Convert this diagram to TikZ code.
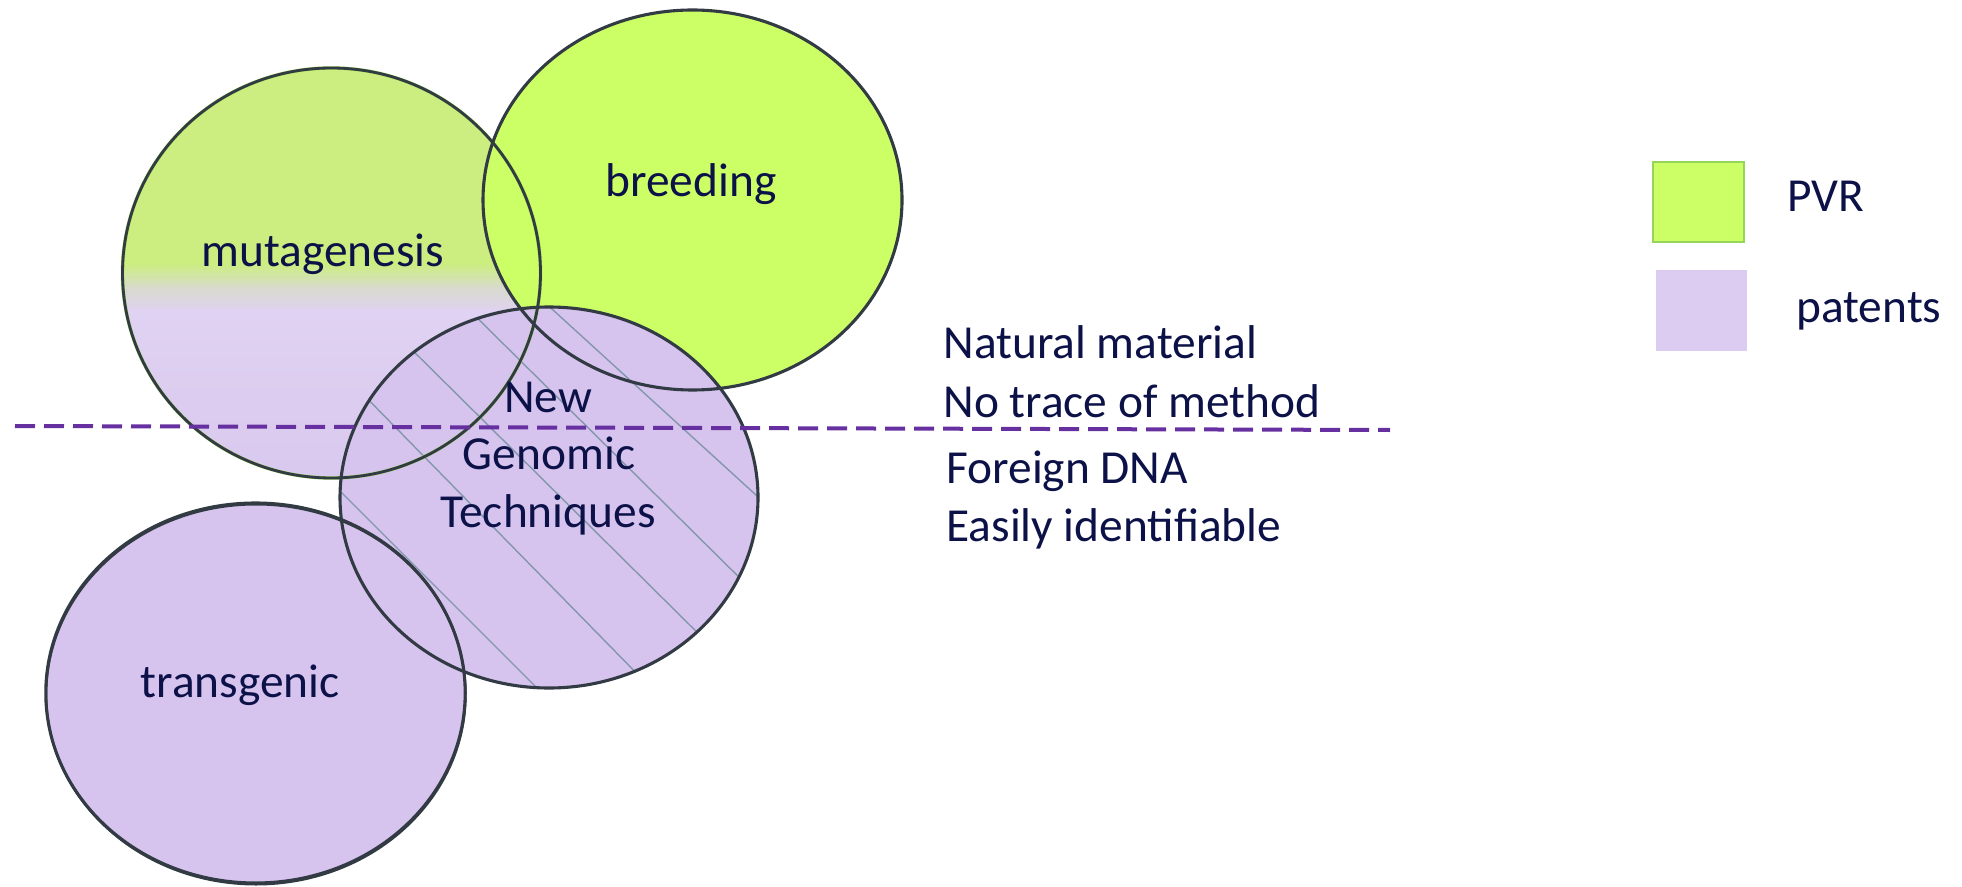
\documentclass[tikz,border=0pt]{standalone}
\usepackage{fontspec}
\setmainfont{Carlito}
\definecolor{breedgreen}{RGB}{204,255,102}
\definecolor{mutgreen}{RGB}{204,238,128}
\definecolor{mutmid}{RGB}{216,218,206}
\definecolor{mutlav}{RGB}{224,210,242}
\definecolor{mutlavb}{RGB}{216,200,238}
\definecolor{lav}{RGB}{214,196,238}
\definecolor{leglav}{RGB}{220,204,242}
\definecolor{edge}{RGB}{50,58,68}
\definecolor{ink}{RGB}{12,18,72}
\definecolor{hatchcol}{RGB}{130,150,172}
\definecolor{dashpurple}{RGB}{102,48,160}
\definecolor{leggreenedge}{RGB}{150,212,90}
\definecolor{halo}{RGB}{150,210,80}
\begin{document}
\begin{tikzpicture}[x=0.5pt,y=-0.5pt,
  outline/.style={draw=edge,line width=1.55pt},
  lbl/.style={text=ink,font=\fontsize{23.7}{28}\selectfont,inner sep=0pt,anchor=base},
  side/.style={lbl,anchor=base west},
  hatchline/.style={draw=hatchcol,line width=0.7pt},
  divider/.style={draw=dashpurple,line width=2pt,dash pattern=on 10pt off 4.5pt},
  legbox/.style={minimum width=45.5pt,minimum height=40pt,inner sep=0pt}]
\useasboundingbox (0,0) rectangle (1962,887);
\coordinate (mutc) at (331.5,273);
\coordinate (breedc) at (692.5,200);
\coordinate (ngtc) at (549,497.5);
\coordinate (transc) at (255.5,693);
% fills
\begin{scope}
\clip (mutc) ellipse [x radius=104.5pt,y radius=102.5pt];
\fill[mutgreen] (100,60) rectangle (560,264);
\shade[top color=mutgreen,bottom color=mutmid] (100,263) rectangle (560,289);
\shade[top color=mutmid,bottom color=mutlav] (100,288) rectangle (560,312);
\shade[top color=mutlav,bottom color=mutlavb] (100,311) rectangle (560,485);
\end{scope}
\fill[breedgreen] (breedc) ellipse [x radius=104.75pt,y radius=95pt];
\fill[lav] (transc) ellipse [x radius=104.85pt,y radius=95pt];
\fill[lav] (ngtc) ellipse [x radius=104.5pt,y radius=95.25pt];
% hatch
\begin{scope}
\clip (ngtc) ellipse [x radius=104.5pt,y radius=95.25pt];
\draw[hatchline] (530,289) -- (779,516);
\draw[hatchline] (456,297) -- (757,595);
\draw[hatchline] (394,332) -- (717,652);
\draw[hatchline] (352,383) -- (653,690);
\draw[hatchline] (320,471) -- (552,703);
\end{scope}
% outlines
\draw[halo,line width=1.7pt] (mutc) ellipse [x radius=104.5pt,y radius=102.5pt];
\draw[outline,line width=1.4pt] (mutc) ellipse [x radius=104.5pt,y radius=102.5pt];
\draw[outline] (breedc) ellipse [x radius=104.75pt,y radius=95pt];
\draw[outline] (ngtc) ellipse [x radius=104.5pt,y radius=95.25pt];
\draw[outline] (transc) ellipse [x radius=104.85pt,y radius=95pt];
\draw[outline,line width=1pt] (256,694.5) ellipse [x radius=104.85pt,y radius=95pt];
% divider
\coordinate (dl) at (15,426);
\coordinate (dr) at (1390,430);
\draw[divider] (dl) -- (dr);
% labels
\node[lbl] (mutl) at (323,267) {mutagenesis};
\node[lbl] (breedl) at (691,197) {breeding};
\node[lbl] (ngt1) at (548,412) {New};
\node[lbl] (ngt2) at (549,469) {Genomic};
\node[lbl] (ngt3) at (548,527) {Techniques};
\node[lbl] (transl) at (240,697) {transgenic};
\node[side] (s1) at (943,358) {Natural material};
\node[side] (s2) at (943,417) {No trace of method};
\node[side] (s3) at (946,483) {Foreign DNA};
\node[side] (s4) at (946,541) {Easily identifiable};
% legend
\node[legbox,fill=breedgreen,draw=leggreenedge,line width=1.3pt] (pvrbox) at (1698.5,202) {};
\node[legbox,fill=leglav] (patbox) at (1701.5,310.5) {};
\node[side] (pvr) at (1787,212) {PVR};
\node[side] (pat) at (1796,322) {patents};
\end{tikzpicture}
\end{document}
